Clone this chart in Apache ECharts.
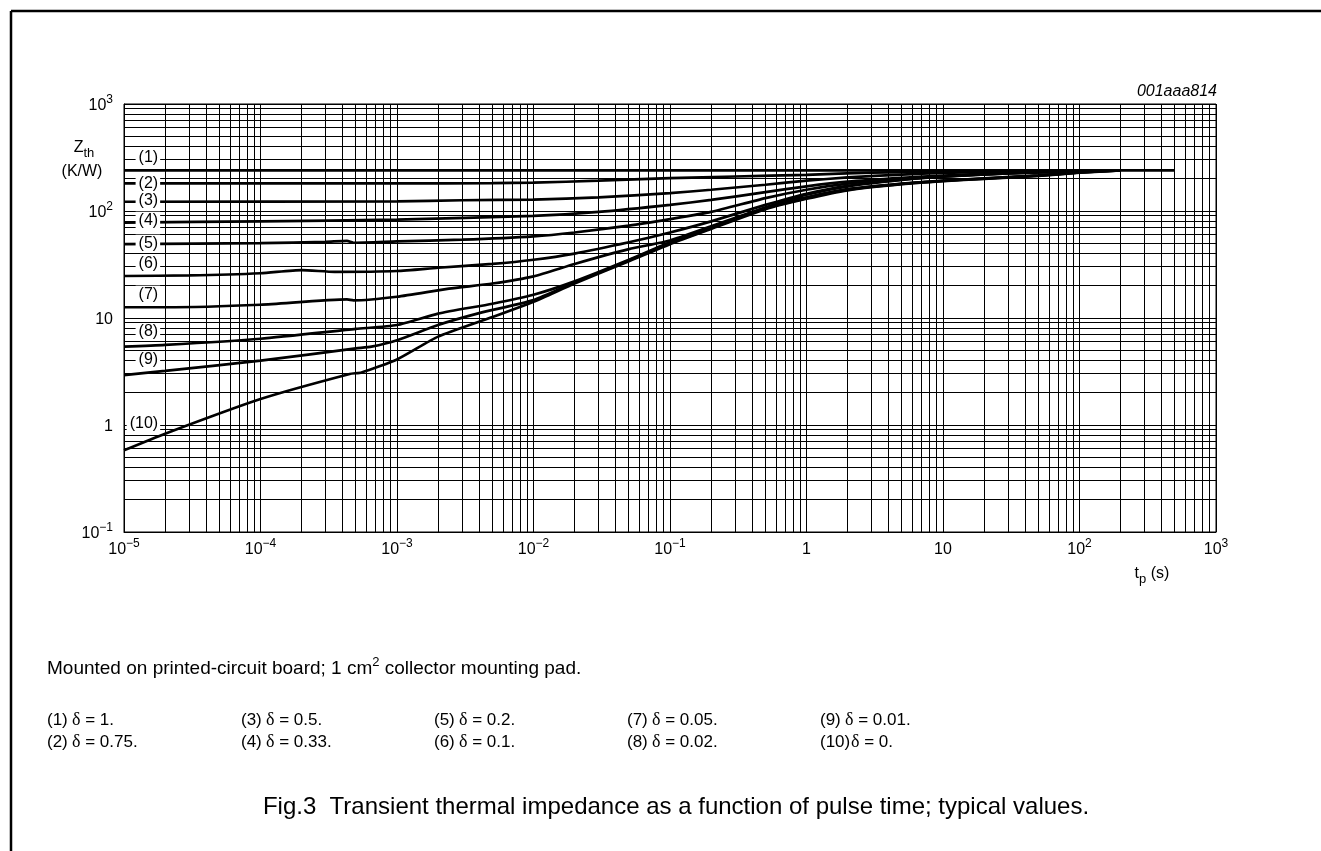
<!DOCTYPE html>
<html><head><meta charset="utf-8">
<script src="https://cdn.jsdelivr.net/npm/echarts@6/dist/echarts.min.js"></script>
<style>html,body{margin:0;padding:0;background:#fff}#c{width:1321px;height:851px}</style>
</head><body><div id="c"></div>
<script>
// ---- data: [pulse time tp (s), Zth (K/W)] ----
const curve1 = [[1e-5,240],[1e-3,240],[1,240],[100,240],[500,240]];
const curve2 = [[1e-5,181],[1e-3,181],[5e-3,182],[0.01,184],[0.03,192],[0.1,203],[0.3,210],[1,218],[3,228],[10,233],[30,236],[100,238],[200,240]];
const curve3 = [[1e-5,122],[1e-3,123],[3e-3,126],[0.01,128],[0.03,134],[0.1,147],[0.2,158],[0.5,176],[1,192],[2,206],[5,219],[10,227],[30,234],[100,238],[200,240]];
const curve4 = [[1e-5,78],[1e-4,80],[1e-3,83],[0.01,90],[0.03,98],[0.1,114],[0.2,127],[0.5,150],[1,170],[2,188],[5,204],[10,214],[30,228],[100,236],[200,240]];
const curve5 = [[1e-5,49],[1e-4,50],[3e-4,51.5],[4.3e-4,52.5],[4.8e-4,50.5],[1e-3,52],[3e-3,54],[0.01,58],[0.02,63],[0.05,73],[0.1,84],[0.2,98],[0.5,132],[1,158],[2,180],[5,199],[10,211],[30,226],[100,236],[200,240]];
const curve6 = [[1e-5,24.7],[3e-5,25],[1e-4,26.2],[2e-4,28],[3.5e-4,27],[1e-3,27.5],[2e-3,29.5],[5e-3,32],[0.01,35],[0.02,40],[0.05,51],[0.1,63],[0.2,80],[0.5,114],[1,145],[2,172],[5,196],[10,210],[30,225],[100,236],[200,240]];
const curve7 = [[1e-5,12.6],[2e-5,12.6],[1e-4,13.3],[4.3e-4,14.9],[4.8e-4,14.6],[1e-3,15.8],[2.4e-3,18.8],[5e-3,21],[0.01,24.5],[0.02,32],[0.05,44],[0.1,53],[0.2,72],[0.5,108],[1,142],[2,170],[5,195],[10,209],[30,225],[100,235],[200,240]];
const curve8 = [[1e-5,5.4],[2e-5,5.6],[1e-4,6.4],[5e-4,7.9],[1e-3,8.6],[2e-3,11],[5e-3,13.6],[0.01,16.5],[0.02,22],[0.05,35],[0.1,51],[0.2,70],[0.5,107],[1,134],[2,160],[5,180],[10,192],[20,202],[50,215],[100,230],[200,240]];
const curve9 = [[1e-5,2.93],[2e-5,3.2],[1e-4,4.0],[5e-4,5.2],[6.5e-4,5.4],[1e-3,6.2],[2e-3,8.6],[4e-3,11.1],[0.01,14.7],[0.02,21.5],[0.05,34.5],[0.1,50],[0.2,69],[0.5,106],[1,132],[2,158],[5,179],[10,191],[20,201],[50,214],[100,229],[200,240]];
const curve10 = [[1e-5,0.58],[2e-5,0.83],[1e-4,1.75],[4.5e-4,3.0],[5.5e-4,3.1],[1e-3,4.1],[2e-3,6.7],[5e-3,10.2],[0.01,14.2],[0.02,21],[0.05,34],[0.1,49],[0.2,68],[0.5,104],[1,130],[2,156],[5,178],[10,190],[20,200],[50,213],[100,228],[200,240]];
const curves = [curve1,curve2,curve3,curve4,curve5,curve6,curve7,curve8,curve9,curve10];

// curve tags placed at the left of the plot (right edge of tag at tagT)
const curveTags = ['(1)','(2)','(3)','(4)','(5)','(6)','(7)','(8)','(9)','(10)'];
const tagT = [1.84e-5,1.84e-5,1.84e-5,1.84e-5,1.84e-5,1.84e-5,1.84e-5,1.84e-5,1.84e-5,1.84e-5];
const tagZ = [315,181,125,82,50,32.4,16.7,7.45,4.05,1.02];

// legend texts
const legendNums = ['(1)','(2)','(3)','(4)','(5)','(6)','(7)','(8)','(9)','(10)'];
const legendVals = ['1.','0.75.','0.5.','0.33.','0.2.','0.1.','0.05.','0.02.','0.01.','0.'];

const xMin = 1e-5, xMax = 1e3, yMin = 0.1, yMax = 1e3;

const FONT = "'Liberation Sans', Arial, Helvetica, sans-serif";
const chart = echarts.init(document.getElementById('c'));

function powLabel(v){
  const e = Math.round(Math.log10(v));
  if (e === 0) return '{n|1}';
  if (e === 1) return '{n|10}';
  return '{n|10}{e|' + (e < 0 ? '\u2212' + (-e) : e) + '}';
}
const powRich = {
  n: {fontSize:16, lineHeight:20, verticalAlign:'bottom', fontFamily:FONT, color:'#000'},
  e: {fontSize:12, lineHeight:10, verticalAlign:'top', fontFamily:FONT, color:'#000'}
};

// minor grid values 2..9 x 10^k
const xMinor = [], yMinor = [];
for (let e = -5; e < 3; e++) for (let m = 2; m <= 9; m++) xMinor.push(m * Math.pow(10, e));
for (let e = -1; e < 3; e++) for (let m = 2; m <= 9; m++) yMinor.push(m * Math.pow(10, e));

function crisp(v){ return Math.round(v - 0.5) + 0.5; }
const series = [
  {type:'custom', silent:true, z:1, clip:false,
   data: xMinor.map(v => [v, yMin]),
   encode:{x:0, y:1},
   renderItem:(params, api) => {
     const v = api.value(0);
     const a = api.coord([v, yMin]), b = api.coord([v, yMax]);
     const x = crisp(a[0]);
     return {type:'line', shape:{x1:x, y1:a[1], x2:x, y2:b[1]}, style:{stroke:'#000', lineWidth:1}};
   }},
  {type:'custom', silent:true, z:1, clip:false,
   data: yMinor.map(v => [xMin, v]),
   encode:{x:0, y:1},
   renderItem:(params, api) => {
     const v = api.value(1);
     const a = api.coord([xMin, v]), b = api.coord([xMax, v]);
     const y = crisp(a[1]);
     return {type:'line', shape:{x1:a[0], y1:y, x2:b[0], y2:y}, style:{stroke:'#000', lineWidth:1}};
   }}
];
curves.forEach((c, i) => series.push({
  type:'line', name:curveTags[i], data:c, symbol:'none', showSymbol:false,
  smooth:0.2, z:3,
  lineStyle:{color:'#000', width:2.7}
}));

const graphics = [
  {type:'line', shape:{x1:11,y1:11,x2:1321,y2:11}, style:{stroke:'#000', lineWidth:2.5}},
  {type:'line', shape:{x1:11,y1:11,x2:11,y2:851}, style:{stroke:'#000', lineWidth:2.5}},
  {type:'text', x:84, y:150, style:{text:'{z|Z}{s|th}', textAlign:'center', textVerticalAlign:'middle',
    rich:{z:{fontSize:16, lineHeight:20, verticalAlign:'top', fontFamily:FONT, fill:'#000'},
          s:{fontSize:13, lineHeight:12, verticalAlign:'bottom', fontFamily:FONT, fill:'#000'}}}},
  {type:'text', x:82, y:172, style:{text:'(K/W)', textAlign:'center', textVerticalAlign:'middle', font:'16px ' + FONT, fill:'#000'}},
  {type:'text', x:1217, y:92, style:{text:'001aaa814', textAlign:'right', textVerticalAlign:'middle', font:'italic 16px ' + FONT, fill:'#000'}},
  {type:'text', x:1152, y:576, style:{text:'{n|t}{s|p}{n| (s)}', textAlign:'center', textVerticalAlign:'middle',
    rich:{n:{fontSize:16, lineHeight:20, verticalAlign:'top', fontFamily:FONT, fill:'#000'},
          s:{fontSize:13, lineHeight:12, verticalAlign:'bottom', fontFamily:FONT, fill:'#000'}}}},
  {type:'text', x:47, y:667, style:{text:'{n|Mounted on printed-circuit board; 1 cm}{e|2}{n| collector mounting pad.}', textAlign:'left', textVerticalAlign:'middle',
    rich:{n:{fontSize:19, lineHeight:22, verticalAlign:'bottom', fontFamily:FONT, fill:'#000'},
          e:{fontSize:13, lineHeight:12, verticalAlign:'top', fontFamily:FONT, fill:'#000'}}}},
  {type:'text', x:676, y:807, style:{text:'Fig.3  Transient thermal impedance as a function of pulse time; typical values.', textAlign:'center', textVerticalAlign:'middle', font:'24px ' + FONT, fill:'#000'}}
];
const colX = [47, 241, 434, 627, 820];
const rowY = [720, 742];
legendNums.forEach((n, i) => {
  const col = Math.floor(i / 2), row = i % 2;
  graphics.push({type:'text', x:colX[col], y:rowY[row], style:{text:n, textAlign:'left', textVerticalAlign:'middle', font:'17px ' + FONT, fill:'#000'}});
  graphics.push({type:'text', x:colX[col] + (n.length > 3 ? 31 : 25), y:rowY[row], style:{text:'{d|\u03b4}{n| = ' + legendVals[i] + '}', textAlign:'left', textVerticalAlign:'middle',
    rich:{d:{fontSize:18, fontFamily:"'Liberation Serif', 'Times New Roman', serif", fill:'#000'}, n:{fontSize:17, fontFamily:FONT, fill:'#000'}}}});
});

chart.setOption({
  animation:false,
  textStyle:{fontFamily:FONT},
  grid:{left:124, top:104, right:105, bottom:319, show:true, borderColor:'#000', borderWidth:1, containLabel:false},
  xAxis:{type:'log', logBase:10, min:xMin, max:xMax, splitNumber:8,
    axisLine:{show:true, lineStyle:{color:'#000', width:1}}, axisTick:{show:false},
    splitLine:{show:true, lineStyle:{color:'#000', width:1}},
    axisLabel:{margin:6, formatter:powLabel, rich:powRich, color:'#000'}},
  yAxis:{type:'log', logBase:10, min:yMin, max:yMax, splitNumber:4,
    axisLine:{show:true, lineStyle:{color:'#000', width:1}}, axisTick:{show:false},
    splitLine:{show:true, lineStyle:{color:'#000', width:1}},
    axisLabel:{margin:11, formatter:powLabel, rich:powRich, color:'#000'}},
  series:series
});

// curve tags positioned through the chart's own scales, with white boxes masking the grid
tagZ.forEach((z, i) => {
  const p = chart.convertToPixel({gridIndex:0}, [tagT[i], z]);
  graphics.push({type:'text', z:100, x:p[0], y:p[1], style:{text:curveTags[i], textAlign:'right', textVerticalAlign:'middle',
    font:'16px ' + FONT, fill:'#000', backgroundColor:'#fff', padding:[1,2,0,3]}});
});
chart.setOption({graphic:{elements:graphics}});
</script></body></html>
